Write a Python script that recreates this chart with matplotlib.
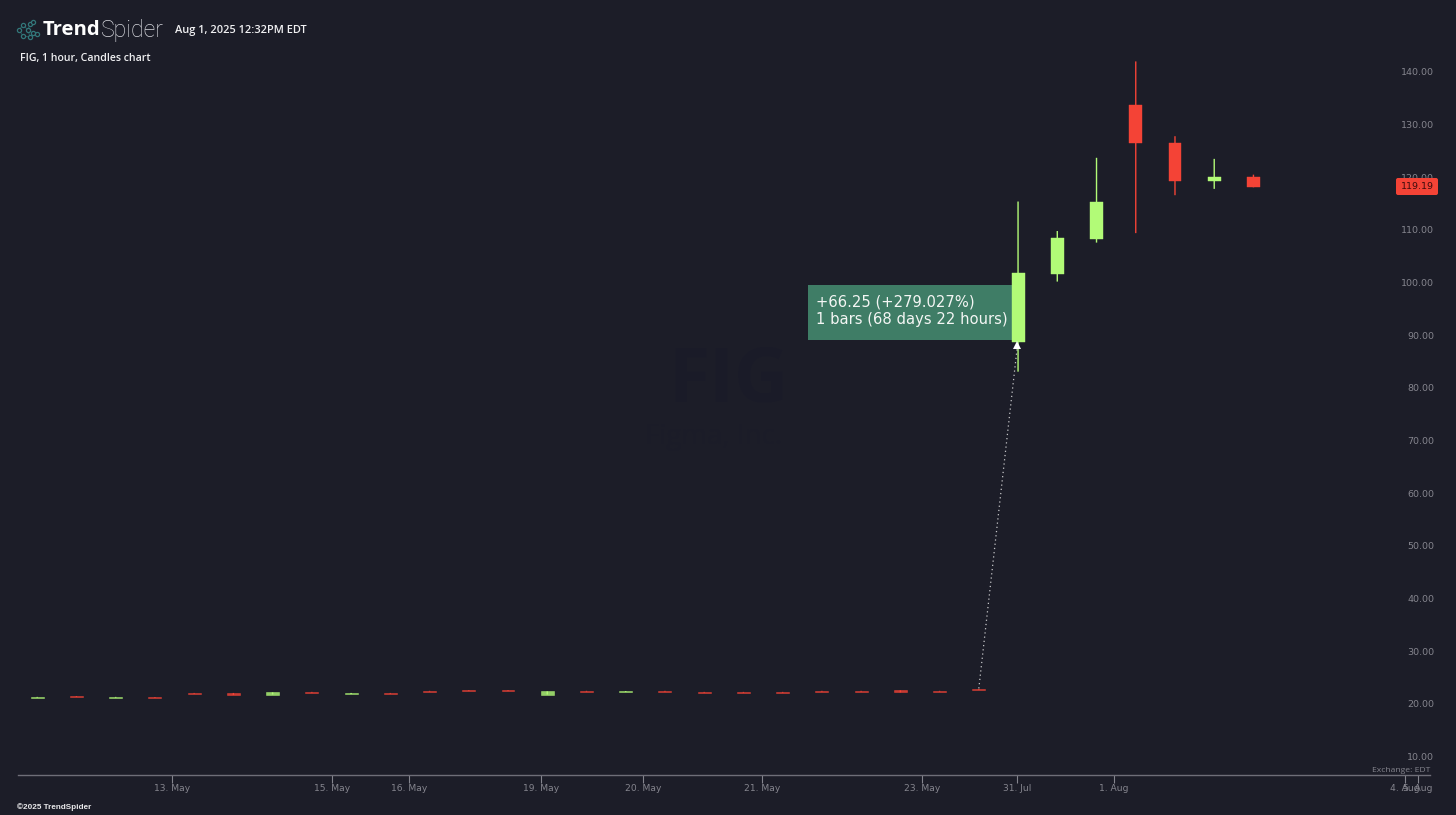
import matplotlib
matplotlib.use("Agg")
import matplotlib.pyplot as plt
from matplotlib.patches import Rectangle, FancyBboxPatch
from matplotlib.transforms import Affine2D

# ---- data ----
opens = [21.2, 21.5, 21.2, 21.3, 22.1, 22.1, 21.8, 22.3, 21.9, 22.1, 22.5, 22.6, 22.6, 21.8, 22.5,
         22.3, 22.5, 22.3, 22.3, 22.3, 22.5, 22.5, 22.6, 22.5, 22.8,
         88.8, 101.7, 108.3, 133.7, 126.6, 119.3, 120.1]
closes = [21.35, 21.35, 21.35, 21.15, 21.95, 21.7, 22.2, 22.15, 22.1, 21.95, 22.35, 22.45, 22.45, 22.4, 22.35,
          22.45, 22.35, 22.15, 22.15, 22.15, 22.35, 22.35, 22.2, 22.35, 22.65,
          101.8, 108.5, 115.4, 126.5, 119.3, 120.1, 118.1]
highs = [21.35, 21.5, 21.35, 21.3, 22.1, 22.1, 22.2, 22.3, 22.1, 22.1, 22.5, 22.6, 22.6, 22.4, 22.5,
         22.45, 22.5, 22.3, 22.3, 22.3, 22.5, 22.5, 22.6, 22.5, 22.8,
         115.4, 109.8, 123.7, 142.0, 127.8, 123.5, 120.5]
lows = [21.2, 21.35, 21.2, 21.15, 21.95, 21.7, 21.8, 22.15, 21.9, 21.95, 22.35, 22.45, 22.45, 21.8, 22.35,
        22.3, 22.35, 22.15, 22.15, 22.15, 22.35, 22.35, 22.2, 22.35, 22.65,
        83.1, 100.2, 107.6, 109.4, 116.6, 117.8, 118.1]
price_ticks = [10, 20, 30, 40, 50, 60, 70, 80, 90, 100, 110, 120, 130, 140]
date_labels = ["13. May", "15. May", "16. May", "19. May", "20. May", "21. May", "23. May",
               "31. Jul", "1. Aug", "4. Aug", "5. Aug"]
date_ticks = [3.43, 7.52, 9.47, 12.84, 15.44, 18.47, 22.55, 24.97, 27.44, 34.86, 35.20]
last_price_label = "119.19"

BG = "#1c1d28"
GREEN = "#b2fb77"
RED = "#f44336"
GREY = "#85858e"

W, H = 1456, 815
fig = plt.figure(figsize=(W / 100, H / 100), dpi=100, facecolor=BG)
ax = fig.add_axes([18 / W, (H - 775) / H, (1430 - 18) / W, 775 / H], facecolor=BG)
ax.set_xlim(-0.49, 35.50)
ax.set_ylim(6.52, 153.66)

px = Affine2D().scale(1 / W, -1 / H).translate(0, 1) + fig.transFigure


def label(x, y, s, **kw):
    kw.setdefault("va", "center")
    kw.setdefault("ha", "left")
    return fig.text(x, y, s, transform=px, **kw)


# watermark
label(728, 382, "FIG", color="#1a1b28", fontsize=54, fontweight="bold", ha="center", family="Open Sans")
label(714, 437, "Figma, Inc.", color="#1b1c28", fontsize=20, ha="center", family="Open Sans")

# measurement box (sits behind the candle)
ax.add_patch(Rectangle((808, 285), 210, 55, transform=px, facecolor="#3f7d66", edgecolor="none", zorder=1))

# candles
xs = list(range(len(opens)))
for i in xs:
    up = closes[i] >= opens[i]
    c = GREEN if up else RED
    big = i >= 25
    w = ax.vlines(i, lows[i], highs[i], color=c, lw=1.0, zorder=3)
    w.set_snap(False)
    ax.bar(i, abs(closes[i] - opens[i]), 0.33, bottom=min(opens[i], closes[i]), color=c, zorder=4,
           edgecolor=c, linewidth=0.3 if big else 0.4, alpha=1 if big else 0.8)

# measure arrow
ax.plot([24, 25 - 0.02], [closes[24] + 0.3, opens[25] - 1], color="white", lw=0.9, alpha=0.75,
        linestyle=(0, (1, 2.4)), zorder=5)
ax.plot([25 - 0.02], [opens[25] - 0.6], marker="^", ms=5.5, color="white", mew=0, zorder=5)

label(816, 302, "+66.25 (+279.027%)", color="#f4f6f4", fontsize=10.65, family="DejaVu Sans", zorder=6)
label(816, 319.5, "1 bars (68 days 22 hours)", color="#f4f6f4", fontsize=10.65, family="DejaVu Sans", zorder=6)

# axes
for s in ("top", "left", "right"):
    ax.spines[s].set_visible(False)
ax.spines["bottom"].set_color("#6e6e78")
ax.spines["bottom"].set_linewidth(1.0)
ax.yaxis.tick_right()
ax.set_yticks(price_ticks)
ax.set_yticklabels([f"{v:.2f}" for v in price_ticks])
ax.tick_params(axis="y", length=0, pad=2.9, labelsize=6.8, labelcolor=GREY)
for t in ax.get_yticklabels():
    t.set_ha("right")
    t.set_family("DejaVu Sans")
ax.set_xticks(date_ticks)
ax.set_xticklabels(date_labels)
ax.tick_params(axis="x", length=5.5, width=0.8, color="#85858e", pad=0.8, labelsize=6.6, labelcolor=GREY)
for t in ax.get_xticklabels():
    t.set_family("DejaVu Sans")

# last price tag
fig.patches.append(FancyBboxPatch((1398, 180), 38, 13, boxstyle="round,pad=2,rounding_size=2", transform=px,
                                  facecolor=RED, edgecolor="none", figure=fig))
label(1417, 186.5, last_price_label, color="#3d0c0d", fontsize=6.8, ha="center", family="DejaVu Sans", zorder=5)

# header
label(43, 30, "Trend", color="white", fontsize=14.6, fontweight="bold", family="Open Sans")
label(101, 30, "Spider", color="#d8d9df", fontsize=16.6, fontweight="light", family="Roboto")
label(175, 31, "Aug 1, 2025 12:32PM EDT", color="#f0f0f2", fontsize=7.95, fontweight="semibold", family="Open Sans")
label(20, 58.5, "FIG, 1 hour, Candles chart", color="#f0f0f2", fontsize=7.6, fontweight="semibold", family="Open Sans")
label(17, 807, "\u00a92025 TrendSpider", color="#e8e8ea", fontsize=5.9, fontweight="bold", family="Liberation Sans")
label(1372, 770, "Exchange: EDT", color="#85858e", fontsize=6.1, family="Open Sans")

# logo glyph
nodes = [(19, 30), (23, 25), (23, 36), (28, 30), (30, 24), (33, 22), (33, 33), (37, 34), (30, 37)]
links = [(0, 1), (0, 2), (1, 3), (3, 4), (4, 5), (3, 6), (6, 7), (2, 8), (3, 8)]
for a, b in links:
    fig.add_artist(plt.Line2D([nodes[a][0], nodes[b][0]], [nodes[a][1], nodes[b][1]], transform=px,
                              color="#2a5f63", lw=0.6))
for n in nodes:
    fig.add_artist(plt.Line2D([n[0]], [n[1]], transform=px, marker="o", ms=3.0, mfc=BG, mec="#32777a", mew=0.9))

fig.savefig("out.png", dpi=100, facecolor=BG)
